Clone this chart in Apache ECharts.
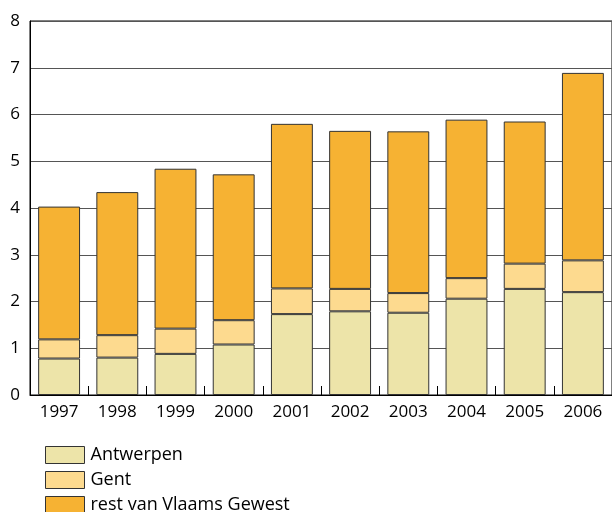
<!DOCTYPE html>
<html>
<head>
<meta charset="utf-8">
<script src="https://cdn.jsdelivr.net/npm/echarts@6/dist/echarts.min.js"></script>
<style>
html,body{margin:0;padding:0;background:#fff;}
#chart{width:612px;height:512px;}
</style>
</head>
<body>
<div id="chart"></div>
<script>
var years = ['1997','1998','1999','2000','2001','2002','2003','2004','2005','2006'];
var antwerpen = [0.78, 0.80, 0.88, 1.08, 1.73, 1.79, 1.76, 2.06, 2.27, 2.20];
var gent      = [0.41, 0.48, 0.54, 0.52, 0.55, 0.48, 0.42, 0.44, 0.54, 0.68];
var rest      = [2.84, 3.06, 3.42, 3.12, 3.52, 3.38, 3.46, 3.39, 3.04, 4.01];
var seriesNames = ['Antwerpen', 'Gent', 'rest van Vlaams Gewest'];
var colors = ['#EDE4A9', '#FDDA8F', '#F6B233'];

var font = 'Open Sans';
var chart = echarts.init(document.getElementById('chart'), null, {renderer: 'canvas'});
var data = [antwerpen, gent, rest];
var legendTops = [446, 471, 496];
chart.setOption({
  animation: false,
  backgroundColor: '#fff',
  textStyle: {fontFamily: font, color: '#000'},
  grid: {left: 30, top: 21, right: -3, bottom: 117, show: true, borderColor: '#000', borderWidth: 1, backgroundColor: 'transparent'},
  legend: seriesNames.map(function (n, i) {
    return {
      orient: 'vertical', left: 45, top: legendTops[i], padding: 0,
      itemWidth: 39, itemHeight: 17, itemGap: 0,
      icon: 'rect',
      textStyle: {fontFamily: font, fontSize: 18, color: '#000', padding: [0,0,0,1]},
      itemStyle: {borderColor: '#333', borderWidth: 1},
      data: [n]
    };
  }),
  xAxis: {
    type: 'category', data: years,
    axisLine: {show: true, lineStyle: {color: '#000', width: 1}},
    axisTick: {show: true, inside: true, length: 9, lineStyle: {color: '#000'}},
    axisLabel: {fontFamily: font, fontSize: 17, color: '#000', margin: 9}
  },
  yAxis: {
    type: 'value', min: 0, max: 8, interval: 1,
    axisLine: {show: true, lineStyle: {color: '#000', width: 1}},
    axisTick: {show: false},
    axisLabel: {fontFamily: font, fontSize: 17, color: '#000', margin: 10},
    splitLine: {show: true, lineStyle: {color: '#555', width: 1}}
  },
  series: data.map(function (d, i) {
    return {
      name: seriesNames[i], type: 'bar', stack: 'total', data: d,
      barWidth: '72%',
      itemStyle: {color: colors[i], borderColor: '#333', borderWidth: 1}
    };
  })
});
</script>
</body>
</html>
